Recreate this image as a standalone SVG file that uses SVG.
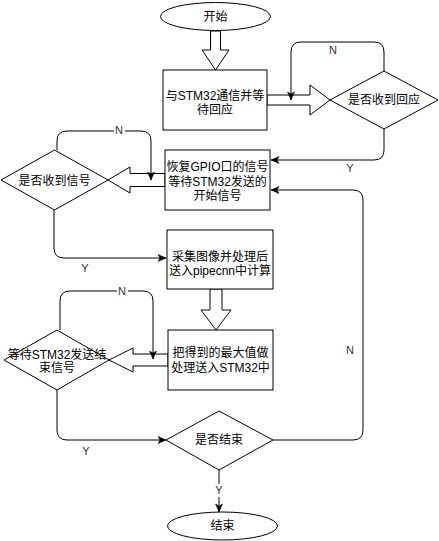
<svg xmlns="http://www.w3.org/2000/svg" width="439" height="541" viewBox="0 0 439 541">
<style>
.shape{fill:#fff;stroke:#000;stroke-width:1}
.t{font-family:"Liberation Sans","Noto Sans CJK SC",Arial,sans-serif;font-size:12px;fill:#000;text-anchor:middle}
.lbl{font-family:"Liberation Sans","Noto Sans CJK SC",Arial,sans-serif;font-size:11px;fill:#333;text-anchor:middle}
.edge{fill:none;stroke:#000;stroke-width:1}
</style>
<defs>
<marker id="arr" markerUnits="userSpaceOnUse" markerWidth="10" markerHeight="10" viewBox="0 0 10 10" refX="9" refY="5" orient="auto">
<path d="M1,1.5 L9,5 L1,8.5 L3,5 Z" fill="#000" stroke="#000" stroke-width="0.5"/>
</marker>
</defs>
<rect width="439" height="541" fill="#fff"/>

<g id="connectors">
<polygon class="shape" points="210.5,31 210.5,50 202,50 215.5,70 229,50 220.5,50 220.5,31"/>
<polygon class="shape" points="267,95 310,95 310,85 330,100 310,115 310,105 267,105"/>
<polygon class="shape" points="165,173.5 130,173.5 130,167 108,180 130,193 130,186.5 165,186.5"/>
<polygon class="shape" points="210,289 210,310 201,310 216,330 231,310 222,310 222,289"/>
<polygon class="shape" points="168,354 133,354 133,348 109,360 133,372 133,366 168,366"/>
<path class="edge" d="M384,71 L384,52 Q384,42 374,42 L301,42 Q291,42 291,52 L291,100" marker-end="url(#arr)"/>
<path class="edge" d="M384,129 L384,150 Q384,160 374,160 L271,160" marker-end="url(#arr)"/>
<path class="edge" d="M57,150 L57,141 Q57,131 67,131 L141,131 Q151,131 151,141 L151,180" marker-end="url(#arr)"/>
<path class="edge" d="M54,210 L54,248 Q54,258 64,258 L166,258" marker-end="url(#arr)"/>
<path class="edge" d="M60,330 L60,301 Q60,291 70,291 L143,291 Q153,291 153,301 L153,359" marker-end="url(#arr)"/>
<path class="edge" d="M57,390 L57,430 Q57,440 67,440 L166,440" marker-end="url(#arr)"/>
<path class="edge" d="M273,440 L353,440 Q363,440 363,430 L363,200 Q363,190 353,190 L271,190" marker-end="url(#arr)"/>
<path class="edge" d="M219,470 L219,512" marker-end="url(#arr)"/>
<text class="lbl" x="333" y="54">N</text>
<text class="lbl" x="350" y="172">Y</text>
<rect x="114" y="124" width="11" height="13" fill="#fff"/>
<text class="lbl" x="119" y="134">N</text>
<text class="lbl" x="85" y="272">Y</text>
<rect x="117" y="285" width="11" height="13" fill="#fff"/>
<text class="lbl" x="122" y="295">N</text>
<text class="lbl" x="350" y="354">N</text>
<text class="lbl" x="86" y="455">Y</text>
<rect x="213" y="484" width="11" height="13" fill="#fff"/>
<text class="lbl" x="219" y="494">Y</text>
</g>

<g id="start">
<ellipse class="shape" cx="215.5" cy="16.5" rx="55" ry="14"/>
<text class="t" x="215.5" y="21">开始</text>
</g>
<g id="box1">
<rect class="shape" x="163" y="70" width="104" height="60"/>
<text class="t" x="215" y="100">与STM32通信并等</text>
<text class="t" x="215" y="114">待回应</text>
</g>
<g id="dec1">
<polygon class="shape" points="330,100 384,71 438,100 384,129"/>
<text class="t" x="384" y="104">是否收到回应</text>
</g>
<g id="box2">
<rect class="shape" x="165" y="150" width="105" height="60"/>
<text class="t" x="217.5" y="171">恢复GPIO口的信号</text>
<text class="t" x="217.5" y="186">等待STM32发送的</text>
<text class="t" x="217.5" y="200">开始信号</text>
</g>
<g id="dec2">
<polygon class="shape" points="1,180 54.5,150 108,180 54.5,210"/>
<text class="t" x="54.5" y="185">是否收到信号</text>
</g>
<g id="box3">
<rect class="shape" x="167" y="230" width="106" height="59"/>
<text class="t" x="220" y="261">采集图像并处理后</text>
<text class="t" x="220" y="275">送入pipecnn中计算</text>
</g>
<g id="box4">
<rect class="shape" x="168" y="330" width="105" height="60"/>
<text class="t" x="220.5" y="357">把得到的最大值做</text>
<text class="t" x="220.5" y="372">处理送入STM32中</text>
</g>
<g id="dec3">
<polygon class="shape" points="4,360 57,330 109,360 57,390"/>
<text class="t" x="57" y="359">等待STM32发送结</text>
<text class="t" x="57" y="372">束信号</text>
</g>
<g id="dec4">
<polygon class="shape" points="166,440 219,411 273,440 219,470"/>
<text class="t" x="219" y="444">是否结束</text>
</g>
<g id="end">
<ellipse class="shape" cx="222.5" cy="526" rx="55" ry="14"/>
<text class="t" x="222.5" y="530">结束</text>
</g>
</svg>
